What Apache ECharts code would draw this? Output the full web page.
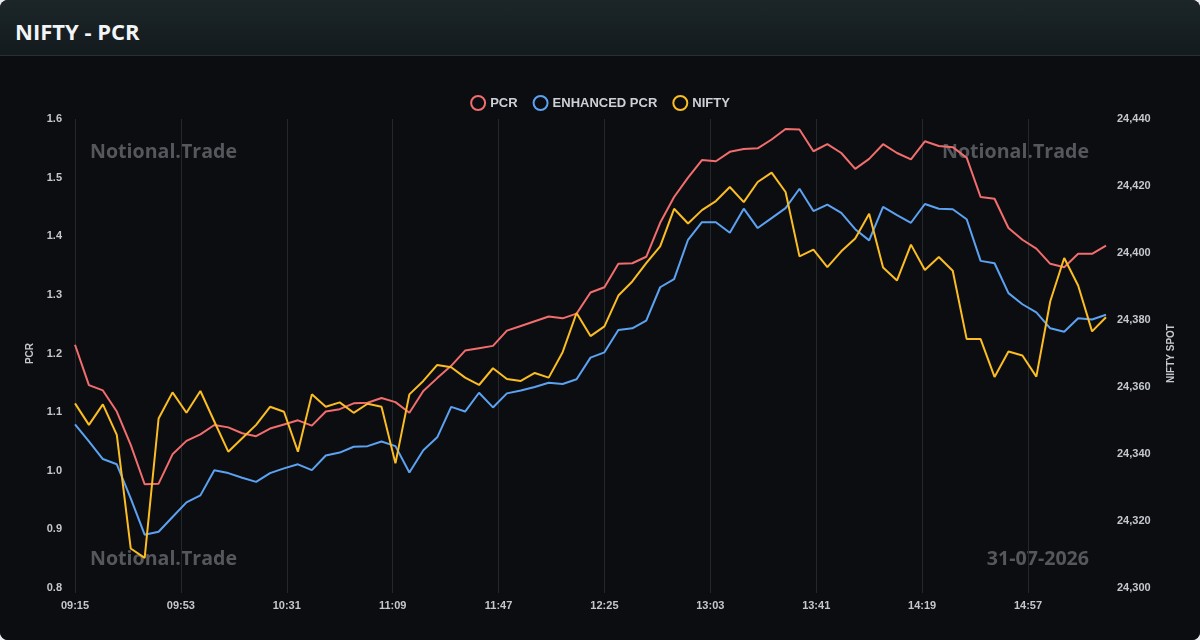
<!DOCTYPE html>
<html>
<head>
<meta charset="utf-8">
<title>NIFTY - PCR</title>
<script src="https://cdn.jsdelivr.net/npm/echarts@6/dist/echarts.min.js"></script>
<style>
  html, body { margin: 0; padding: 0; background: #e9ebee; }
  .card {
    width: 1200px; height: 640px; overflow: hidden;
    border-radius: 8px; background: #0c0d10;
  }
  .header {
    height: 56px; border-bottom: 1px solid #263034;
    background: linear-gradient(#1c2629, #131a1d);
    box-sizing: border-box; padding-left: 15px;
    font-family: "Open Sans", "Noto Sans", sans-serif;
    font-weight: 700; font-size: 22px; color: #f2f4f5;
    line-height: 62px;
  }
  #chart { width: 1200px; height: 584px; }
</style>
</head>
<body>
<div class="card">
  <div class="header">NIFTY - PCR</div>
  <div id="chart"></div>
</div>
<script>
// 5-minute snapshots, 09:15 -> 15:25
const times = [
  '09:15','09:20','09:25','09:30','09:35','09:40','09:45','09:50','09:55','10:00',
  '10:05','10:10','10:15','10:20','10:25','10:30','10:35','10:40','10:45','10:50',
  '10:55','11:00','11:05','11:10','11:15','11:20','11:25','11:30','11:35','11:40',
  '11:45','11:50','11:55','12:00','12:05','12:10','12:15','12:20','12:25','12:30',
  '12:35','12:40','12:45','12:50','12:55','13:00','13:05','13:10','13:15','13:20',
  '13:25','13:30','13:35','13:40','13:45','13:50','13:55','14:00','14:05','14:10',
  '14:15','14:20','14:25','14:30','14:35','14:40','14:45','14:50','14:55','15:00',
  '15:05','15:10','15:15','15:20','15:25'
];

const pcr = [
  1.215, 1.146, 1.137, 1.101, 1.044, 0.977, 0.978, 1.028, 1.051, 1.062,
  1.078, 1.074, 1.064, 1.059, 1.072, 1.079, 1.086, 1.077, 1.101, 1.105,
  1.115, 1.116, 1.124, 1.117, 1.099, 1.136, 1.158, 1.179, 1.205, 1.209,
  1.213, 1.239, 1.247, 1.255, 1.263, 1.260, 1.268, 1.304, 1.313, 1.353,
  1.354, 1.365, 1.423, 1.467, 1.500, 1.530, 1.528, 1.544, 1.549, 1.550,
  1.565, 1.583, 1.582, 1.545, 1.557, 1.542, 1.515, 1.532, 1.557, 1.542,
  1.531, 1.562, 1.554, 1.552, 1.534, 1.467, 1.464, 1.414, 1.394, 1.379,
  1.353, 1.347, 1.370, 1.370, 1.384
];

const enhancedPcr = [
  1.079, 1.050, 1.020, 1.011, 0.953, 0.891, 0.896, 0.921, 0.946, 0.958,
  1.001, 0.996, 0.988, 0.981, 0.996, 1.004, 1.011, 1.001, 1.026, 1.031,
  1.041, 1.042, 1.050, 1.042, 0.997, 1.035, 1.057, 1.109, 1.101, 1.133,
  1.108, 1.132, 1.137, 1.143, 1.150, 1.148, 1.156, 1.193, 1.202, 1.240,
  1.243, 1.256, 1.313, 1.327, 1.394, 1.424, 1.424, 1.406, 1.447, 1.414,
  1.431, 1.448, 1.481, 1.443, 1.454, 1.440, 1.412, 1.393, 1.450, 1.436,
  1.423, 1.455, 1.447, 1.446, 1.429, 1.358, 1.354, 1.303, 1.284, 1.270,
  1.243, 1.237, 1.260, 1.258, 1.266
];

const nifty = [
  24355.1, 24348.7, 24354.8, 24345.7, 24311.8, 24309.0, 24350.6, 24358.4, 24352.3, 24358.8,
  24349.7, 24340.7, 24344.7, 24348.7, 24354.1, 24352.6, 24340.7, 24357.8, 24354.1, 24355.4,
  24352.3, 24355.0, 24354.1, 24337.2, 24357.8, 24361.8, 24366.6, 24365.9, 24362.8, 24360.6,
  24365.6, 24362.4, 24361.8, 24364.2, 24362.8, 24370.4, 24382.1, 24375.2, 24378.1, 24387.3,
  24391.5, 24397.0, 24402.0, 24413.2, 24408.8, 24412.8, 24415.5, 24419.7, 24415.2, 24421.2,
  24424.0, 24418.2, 24399.0, 24401.0, 24395.8, 24400.5, 24404.3, 24411.7, 24395.7, 24391.8,
  24402.5, 24394.9, 24398.8, 24394.7, 24374.3, 24374.3, 24363.0, 24370.6, 24369.4, 24363.1,
  24385.6, 24398.5, 24390.3, 24376.6, 24380.8
];

const seriesNames = ['PCR', 'ENHANCED PCR', 'NIFTY'];
const seriesColors = ['#f26d6d', '#5ca2f2', '#fbbd23'];

const tradeDate = '31-07-2026';
const watermark = 'Notional.Trade';

const OPEN = 9 * 60 + 15;
function toMin(t) {
  const [h, m] = t.split(':').map(Number);
  return h * 60 + m - OPEN;
}
function toClock(v) {
  const t = OPEN + v;
  const h = Math.floor(t / 60), m = t % 60;
  return String(h).padStart(2, '0') + ':' + String(m).padStart(2, '0');
}
const pair = arr => arr.map((v, i) => [toMin(times[i]), v]);

const labelColor = '#c4c8ce';
const gridColor = '#24272c';
const font = '"Liberation Sans", Arial, sans-serif';
const wmFont = 'bold 19.6px "Open Sans", "Noto Sans", sans-serif';

function lineSeries(idx, values, axis) {
  return {
    name: seriesNames[idx], type: 'line', yAxisIndex: axis, showSymbol: false, z: 5,
    data: pair(values),
    itemStyle: { color: seriesColors[idx] },
    lineStyle: { color: seriesColors[idx], width: 2 }
  };
}

const chart = echarts.init(document.getElementById('chart'));
const option = {
  backgroundColor: '#0c0d10',
  animation: false,
  textStyle: { fontFamily: font },
  legend: {
    top: 34,
    left: 'center',
    icon: 'circle',
    itemWidth: 14,
    itemHeight: 14,
    itemGap: 15,
    textStyle: { color: '#cdd1d7', fontSize: 13, fontWeight: 'bold', fontFamily: font },
    data: seriesNames.map((n, i) => ({
      name: n,
      itemStyle: { color: '#0c0d10', borderColor: seriesColors[i], borderWidth: 2 }
    }))
  },
  grid: { left: 75, right: 94, top: 63, bottom: 52 },
  xAxis: {
    type: 'value',
    min: 0,
    max: toMin(times[times.length - 1]),
    interval: 38,
    axisLine: { show: false },
    axisTick: { show: true, length: 5, lineStyle: { color: gridColor } },
    splitLine: { show: true, showMaxLine: false, lineStyle: { color: gridColor, width: 1 } },
    axisLabel: {
      color: labelColor, fontSize: 11, fontWeight: 'bold', margin: 12,
      showMaxLabel: false,
      formatter: v => toClock(v)
    }
  },
  yAxis: [
    {
      type: 'value',
      name: 'PCR',
      nameLocation: 'middle',
      nameGap: 40,
      nameTextStyle: { color: labelColor, fontSize: 10, fontWeight: 'bold' },
      min: 0.8, max: 1.6, interval: 0.1,
      axisLine: { show: false },
      axisTick: { show: false },
      splitLine: { show: false },
      axisLabel: {
        color: labelColor, fontSize: 11, fontWeight: 'bold', margin: 13,
        formatter: v => v.toFixed(1)
      }
    },
    {
      type: 'value',
      name: 'NIFTY SPOT',
      nameLocation: 'middle',
      nameGap: 60,
      nameTextStyle: { color: labelColor, fontSize: 10, fontWeight: 'bold' },
      min: 24300, max: 24440, interval: 20,
      axisLine: { show: false },
      axisTick: { show: false },
      splitLine: { show: false },
      axisLabel: {
        color: labelColor, fontSize: 11, fontWeight: 'bold', margin: 11,
        formatter: v => v.toLocaleString('en-US')
      }
    }
  ],
  graphic: [
    { type: 'text', left: 90, top: 86, z: 0, silent: true,
      style: { text: watermark, fill: '#54575c', font: wmFont } },
    { type: 'text', right: 111, top: 86, z: 0, silent: true,
      style: { text: watermark, fill: '#54575c', font: wmFont } },
    { type: 'text', left: 90, top: 493, z: 0, silent: true,
      style: { text: watermark, fill: '#54575c', font: wmFont } },
    { type: 'text', right: 111, top: 493, z: 0, silent: true,
      style: { text: tradeDate, fill: '#54575c', font: wmFont } }
  ],
  series: [
    lineSeries(0, pcr, 0),
    lineSeries(1, enhancedPcr, 0),
    lineSeries(2, nifty, 1)
  ]
};
chart.setOption(option);
</script>
</body>
</html>
